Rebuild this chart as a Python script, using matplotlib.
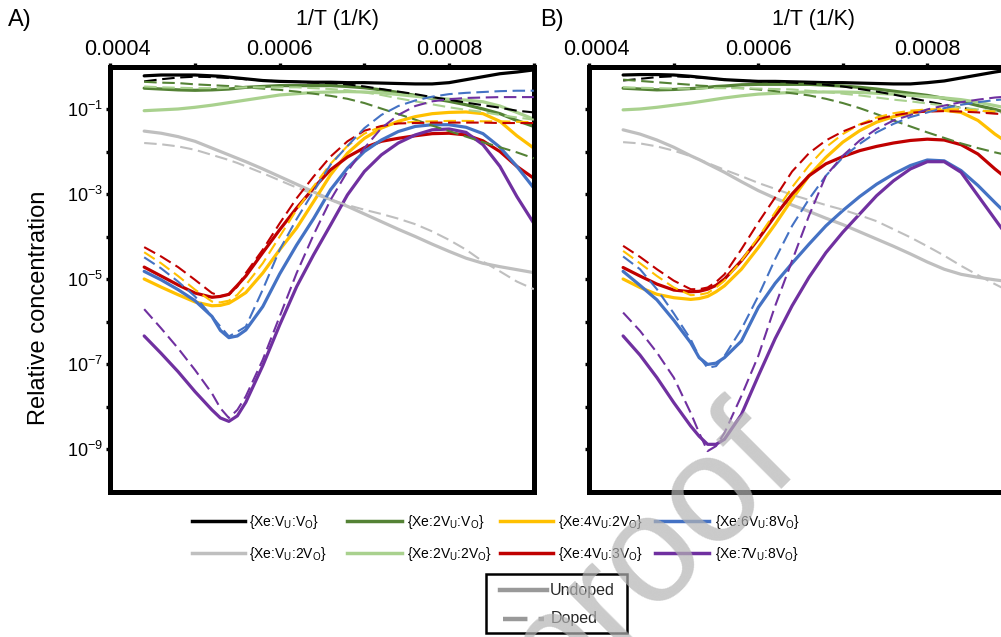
import matplotlib
matplotlib.use('Agg')
import matplotlib.pyplot as plt
from matplotlib.lines import Line2D
from matplotlib.patches import Rectangle
from matplotlib.ticker import FixedLocator, FixedFormatter, NullFormatter
from matplotlib.transforms import ScaledTranslation
import numpy as np

plt.rcParams['font.family'] = ['Liberation Sans', 'DejaVu Sans']
plt.rcParams['mathtext.fontset'] = 'custom'
plt.rcParams['mathtext.rm'] = 'Liberation Sans'
plt.rcParams['mathtext.it'] = 'Liberation Sans:italic'
plt.rcParams['mathtext.bf'] = 'Liberation Sans:bold'

# ── data: 1/T grid and log10(relative concentration) ──
inv_T = [0.00044, 0.00046, 0.00048, 0.00050, 0.00052, 0.00053, 0.00054, 0.00055, 0.00056,
         0.00058, 0.00060, 0.00062, 0.00064, 0.00066, 0.00068, 0.00070, 0.00072, 0.00074,
         0.00076, 0.00078, 0.00080, 0.00082, 0.00084, 0.00086, 0.00088, 0.00090]

# panel A   (_u = undoped, _d = doped)
A_VuVo_u = [-0.22, -0.20, -0.20, -0.20, -0.22, -0.23, -0.25, -0.27, -0.29, -0.33, -0.35, -0.36, -0.37, -0.37, -0.38, -0.38, -0.39, -0.40, -0.41, -0.41, -0.38, -0.31, -0.24, -0.17, -0.13, -0.08]
A_VuVo_d = [-0.35, -0.30, -0.26, -0.24, -0.25, -0.26, -0.27, -0.28, -0.30, -0.33, -0.35, -0.36, -0.38, -0.39, -0.42, -0.47, -0.53, -0.59, -0.65, -0.72, -0.78, -0.85, -0.91, -0.97, -1.04, -1.08]
A_Vu2Vo_u = [-1.52, -1.57, -1.65, -1.76, -1.92, -2.00, -2.08, -2.16, -2.24, -2.41, -2.59, -2.77, -2.95, -3.13, -3.29, -3.47, -3.65, -3.83, -4.00, -4.18, -4.35, -4.51, -4.63, -4.71, -4.78, -4.85]
A_Vu2Vo_d = [-1.80, -1.83, -1.88, -1.96, -2.08, -2.14, -2.20, -2.27, -2.35, -2.51, -2.68, -2.85, -3.00, -3.14, -3.26, -3.37, -3.47, -3.58, -3.71, -3.88, -4.08, -4.31, -4.59, -4.82, -5.06, -5.24]
A_2VuVo_u = [-0.51, -0.53, -0.55, -0.56, -0.55, -0.54, -0.53, -0.51, -0.49, -0.47, -0.45, -0.45, -0.45, -0.45, -0.47, -0.50, -0.55, -0.61, -0.68, -0.75, -0.82, -0.90, -1.00, -1.11, -1.27, -1.41]
A_2VuVo_d = [-0.36, -0.38, -0.39, -0.42, -0.44, -0.45, -0.46, -0.47, -0.49, -0.52, -0.55, -0.59, -0.64, -0.69, -0.76, -0.86, -0.99, -1.12, -1.25, -1.39, -1.52, -1.65, -1.78, -1.90, -2.02, -2.16]
A_2Vu2Vo_u = [-1.04, -1.02, -1.00, -0.96, -0.91, -0.88, -0.85, -0.82, -0.79, -0.73, -0.67, -0.64, -0.61, -0.60, -0.59, -0.60, -0.62, -0.66, -0.70, -0.74, -0.77, -0.79, -0.83, -0.93, -1.08, -1.24]
A_2Vu2Vo_d = [-0.47, -0.49, -0.50, -0.51, -0.51, -0.51, -0.50, -0.50, -0.49, -0.49, -0.49, -0.49, -0.51, -0.53, -0.56, -0.61, -0.67, -0.75, -0.82, -0.89, -0.96, -1.02, -1.07, -1.14, -1.20, -1.25]
A_4Vu2Vo_u = [-5.00, -5.19, -5.37, -5.54, -5.63, -5.62, -5.57, -5.45, -5.32, -4.86, -4.31, -3.80, -3.18, -2.55, -2.04, -1.69, -1.45, -1.29, -1.18, -1.11, -1.08, -1.07, -1.11, -1.29, -1.63, -1.92]
A_4Vu2Vo_d = [-4.37, -4.63, -4.93, -5.25, -5.53, -5.55, -5.51, -5.37, -5.14, -4.63, -4.00, -3.37, -2.82, -2.29, -1.87, -1.58, -1.41, -1.33, -1.30, -1.29, -1.28, -1.28, -1.29, -1.29, -1.30, -1.31]
A_4Vu3Vo_u = [-4.72, -4.93, -5.14, -5.33, -5.43, -5.41, -5.36, -5.15, -4.93, -4.38, -3.84, -3.33, -2.86, -2.43, -2.13, -1.91, -1.76, -1.69, -1.63, -1.58, -1.57, -1.61, -1.75, -2.00, -2.35, -2.63]
A_4Vu3Vo_d = [-4.25, -4.47, -4.72, -5.02, -5.33, -5.40, -5.37, -5.18, -4.86, -4.31, -3.69, -3.10, -2.59, -2.12, -1.76, -1.51, -1.40, -1.34, -1.33, -1.32, -1.32, -1.32, -1.32, -1.33, -1.33, -1.33]
A_6Vu8Vo_u = [-4.82, -5.02, -5.25, -5.51, -5.88, -6.21, -6.38, -6.34, -6.20, -5.65, -4.88, -4.20, -3.58, -2.90, -2.39, -2.00, -1.73, -1.53, -1.41, -1.37, -1.37, -1.43, -1.58, -1.90, -2.35, -2.86]
A_6Vu8Vo_d = [-4.49, -4.75, -5.06, -5.41, -5.88, -6.12, -6.35, -6.24, -6.12, -5.25, -4.31, -3.59, -2.94, -2.31, -1.87, -1.45, -1.14, -0.93, -0.80, -0.71, -0.65, -0.62, -0.60, -0.58, -0.57, -0.57]
A_7Vu8Vo_u = [-6.34, -6.75, -7.18, -7.65, -8.08, -8.27, -8.35, -8.22, -7.90, -7.04, -6.08, -5.18, -4.43, -3.73, -3.02, -2.47, -2.08, -1.80, -1.61, -1.49, -1.47, -1.55, -1.84, -2.35, -3.06, -3.69]
A_7Vu8Vo_d = [-5.71, -6.16, -6.63, -7.14, -7.69, -8.04, -8.27, -8.08, -7.76, -6.90, -5.88, -4.86, -3.96, -3.14, -2.47, -1.92, -1.45, -1.14, -0.93, -0.82, -0.77, -0.74, -0.73, -0.72, -0.72, -0.72]

# panel B
B_VuVo_u = [-0.20, -0.19, -0.19, -0.20, -0.23, -0.25, -0.27, -0.29, -0.31, -0.33, -0.35, -0.35, -0.36, -0.37, -0.38, -0.38, -0.39, -0.40, -0.41, -0.41, -0.38, -0.34, -0.27, -0.20, -0.13, -0.07]
B_VuVo_d = [-0.33, -0.29, -0.25, -0.23, -0.25, -0.26, -0.27, -0.29, -0.31, -0.33, -0.35, -0.36, -0.38, -0.40, -0.43, -0.47, -0.53, -0.59, -0.66, -0.74, -0.82, -0.90, -0.97, -1.03, -1.08, -1.12]
B_Vu2Vo_u = [-1.49, -1.59, -1.73, -1.90, -2.10, -2.19, -2.29, -2.39, -2.49, -2.71, -2.92, -3.10, -3.26, -3.41, -3.57, -3.72, -3.89, -4.06, -4.23, -4.41, -4.60, -4.77, -4.89, -4.96, -5.02, -5.07]
B_Vu2Vo_d = [-1.78, -1.81, -1.88, -1.98, -2.11, -2.19, -2.27, -2.35, -2.43, -2.58, -2.74, -2.88, -3.02, -3.14, -3.26, -3.37, -3.50, -3.64, -3.83, -4.02, -4.23, -4.45, -4.69, -4.91, -5.12, -5.32]
B_2VuVo_u = [-0.51, -0.53, -0.55, -0.54, -0.52, -0.51, -0.49, -0.47, -0.46, -0.43, -0.42, -0.42, -0.42, -0.42, -0.44, -0.46, -0.49, -0.53, -0.58, -0.63, -0.68, -0.75, -0.82, -0.92, -1.01, -1.12]
B_2VuVo_d = [-0.31, -0.34, -0.37, -0.40, -0.43, -0.45, -0.46, -0.48, -0.49, -0.51, -0.54, -0.58, -0.63, -0.68, -0.76, -0.86, -0.98, -1.12, -1.27, -1.41, -1.55, -1.68, -1.81, -1.92, -2.02, -2.11]
B_2Vu2Vo_u = [-1.02, -1.00, -0.96, -0.91, -0.86, -0.83, -0.80, -0.77, -0.74, -0.69, -0.65, -0.63, -0.61, -0.60, -0.60, -0.60, -0.61, -0.63, -0.65, -0.68, -0.71, -0.74, -0.78, -0.84, -0.92, -1.00]
B_2Vu2Vo_d = [-0.49, -0.50, -0.51, -0.52, -0.52, -0.52, -0.51, -0.51, -0.51, -0.51, -0.52, -0.53, -0.54, -0.57, -0.60, -0.64, -0.68, -0.73, -0.78, -0.82, -0.87, -0.92, -0.97, -1.01, -1.06, -1.11]
B_4Vu2Vo_u = [-5.00, -5.20, -5.36, -5.44, -5.48, -5.46, -5.41, -5.30, -5.16, -4.77, -4.26, -3.71, -3.12, -2.57, -2.14, -1.78, -1.51, -1.31, -1.18, -1.09, -1.04, -1.03, -1.08, -1.27, -1.59, -1.86]
B_4Vu2Vo_d = [-4.34, -4.63, -4.93, -5.20, -5.38, -5.37, -5.33, -5.20, -5.04, -4.57, -4.02, -3.43, -2.84, -2.33, -1.90, -1.59, -1.36, -1.20, -1.10, -1.04, -1.01, -1.00, -1.01, -1.04, -1.06, -1.08]
B_4Vu3Vo_u = [-4.73, -4.93, -5.12, -5.26, -5.30, -5.29, -5.24, -5.15, -5.00, -4.57, -4.06, -3.51, -3.00, -2.57, -2.29, -2.12, -1.98, -1.88, -1.80, -1.74, -1.71, -1.73, -1.84, -2.06, -2.41, -2.73]
B_4Vu3Vo_d = [-4.22, -4.48, -4.77, -5.04, -5.24, -5.24, -5.20, -5.07, -4.89, -4.30, -3.67, -3.08, -2.47, -2.04, -1.74, -1.53, -1.37, -1.25, -1.15, -1.09, -1.06, -1.05, -1.06, -1.08, -1.11, -1.13]
B_6Vu8Vo_u = [-4.82, -5.15, -5.49, -5.97, -6.50, -6.85, -7.01, -6.98, -6.85, -6.46, -5.67, -5.10, -4.63, -4.18, -3.75, -3.39, -3.06, -2.77, -2.53, -2.33, -2.20, -2.22, -2.45, -2.80, -3.20, -3.59]
B_6Vu8Vo_d = [-4.47, -4.77, -5.24, -5.81, -6.42, -6.83, -7.09, -7.05, -6.81, -6.18, -5.40, -4.53, -3.75, -3.12, -2.57, -2.14, -1.82, -1.55, -1.35, -1.19, -1.08, -0.98, -0.90, -0.84, -0.79, -0.76]
B_7Vu8Vo_u = [-6.34, -6.79, -7.32, -7.91, -8.46, -8.70, -8.89, -8.89, -8.77, -8.19, -7.28, -6.40, -5.63, -4.96, -4.38, -3.90, -3.47, -3.04, -2.69, -2.41, -2.24, -2.24, -2.49, -3.04, -3.59, -4.14]
B_7Vu8Vo_d = [-5.79, -6.22, -6.73, -7.32, -8.15, -8.62, -9.05, -8.93, -8.62, -7.75, -6.81, -5.63, -4.57, -3.51, -2.57, -2.10, -1.74, -1.47, -1.27, -1.14, -1.01, -0.92, -0.84, -0.78, -0.73, -0.70]

# species (legend order: column by column) and colours
species = [('', ''), ('', '2'), ('2', ''), ('2', '2'), ('4', '2'), ('4', '3'), ('6', '8'), ('7', '8')]
colors = ['#000000', '#BFBFBF', '#548235', '#A9D18E', '#FFC000', '#C00000', '#4472C4', '#7030A0']

panel_A = [(A_VuVo_u, A_VuVo_d), (A_Vu2Vo_u, A_Vu2Vo_d), (A_2VuVo_u, A_2VuVo_d), (A_2Vu2Vo_u, A_2Vu2Vo_d),
           (A_4Vu2Vo_u, A_4Vu2Vo_d), (A_4Vu3Vo_u, A_4Vu3Vo_d), (A_6Vu8Vo_u, A_6Vu8Vo_d), (A_7Vu8Vo_u, A_7Vu8Vo_d)]
panel_B = [(B_VuVo_u, B_VuVo_d), (B_Vu2Vo_u, B_Vu2Vo_d), (B_2VuVo_u, B_2VuVo_d), (B_2Vu2Vo_u, B_2Vu2Vo_d),
           (B_4Vu2Vo_u, B_4Vu2Vo_d), (B_4Vu3Vo_u, B_4Vu3Vo_d), (B_6Vu8Vo_u, B_6Vu8Vo_d), (B_7Vu8Vo_u, B_7Vu8Vo_d)]

x_major = [0.0004, 0.0006, 0.0008]
x_minor = [0.0005, 0.0007, 0.0009]
y_major = [1e-1, 1e-3, 1e-5, 1e-7, 1e-9]
y_minor = [1e-2, 1e-4, 1e-6, 1e-8]


def label_for(a, b):
    return '{Xe:' + a + 'V$_\\mathregular{U}$:' + b + 'V$_\\mathregular{O}$}'


W, H = 1001, 637
fig = plt.figure(figsize=(W / 100, H / 100), dpi=100)


def fx(px):
    return px / W


def fy(py):
    return 1 - py / H


def style_axes(ax, show_ylabels=True):
    ax.set_yscale('log')
    ax.set_xlim(0.0004, 0.0009)
    ax.set_ylim(1e-10, 1)
    ax.xaxis.tick_top()
    ax.xaxis.set_major_locator(FixedLocator(x_major))
    ax.xaxis.set_major_formatter(FixedFormatter(['0.0004', '0.0006', '0.0008']))
    ax.xaxis.set_minor_locator(FixedLocator(x_minor))
    ax.xaxis.set_minor_formatter(NullFormatter())
    ax.yaxis.set_major_locator(FixedLocator(y_major))
    ax.yaxis.set_minor_locator(FixedLocator(y_minor))
    ax.yaxis.set_minor_formatter(NullFormatter())
    if show_ylabels:
        ax.yaxis.set_major_formatter(FixedFormatter(['$10^{-1}$', '$10^{-3}$', '$10^{-5}$',
                                                     '$10^{-7}$', '$10^{-9}$']))
    else:
        ax.yaxis.set_major_formatter(NullFormatter())
    ax.tick_params(axis='both', which='both', direction='out', length=3, width=2.4, color='black')
    ax.tick_params(axis='x', which='major', labelsize=15.5, pad=2)
    ax.tick_params(axis='y', which='major', labelsize=13, pad=2)
    for sp in ax.spines.values():
        sp.set_linewidth(3.6)
        sp.set_color('black')
    # the first top label sits a little right of its edge tick in the original
    first = ax.xaxis.get_major_ticks(len(x_major))[0].label2
    first.set_transform(first.get_transform() + ScaledTranslation(5 / 72, 0, fig.dpi_scale_trans))


def draw_panel(ax, series):
    for (und, dop), c in zip(series, colors):
        ax.plot(inv_T, 10 ** np.array(und), color=c, lw=2.3, solid_capstyle='round',
                solid_joinstyle='round', zorder=2)
    for (und, dop), c in zip(series, colors):
        ax.plot(inv_T, 10 ** np.array(dop), color=c, lw=1.5, ls=(0, (6, 2.7)), zorder=3)


# axes (panel B runs off the right edge, as in the reference)
axA = fig.add_axes([fx(110.3), fy(491.5), 423.5 / W, 425 / H])
axB = fig.add_axes([fx(589.3), fy(491.5), 422.5 / W, 425 / H])
style_axes(axA, True)
style_axes(axB, False)
draw_panel(axA, panel_A)
draw_panel(axB, panel_B)

fig.text(fx(8), fy(20), 'A)', fontsize=17, va='center', ha='left')
fig.text(fx(540), fy(20), 'B)', fontsize=17, va='center', ha='left')
fig.text(fx(338), fy(19), '1/T (1/K)', fontsize=15.5, va='center', ha='center')
fig.text(fx(814), fy(19), '1/T (1/K)', fontsize=15.5, va='center', ha='center')
fig.text(fx(39), fy(308), 'Relative concentration', fontsize=17, rotation=90,
         va='center', ha='center')

# ── species legend (2 rows x 4 columns) ─────────────────────────────────────
col_px = [(192, 245, 249), (347, 402, 407), (500, 553, 558), (655, 709, 715)]
row_py = [521, 553]
for i, ((a, b), c) in enumerate(zip(species, colors)):
    x0, x1, xt = col_px[i // 2]
    y = row_py[i % 2]
    fig.add_artist(Line2D([fx(x0), fx(x1)], [fy(y), fy(y)], transform=fig.transFigure,
                          color=c, lw=2.5))
    fig.text(fx(xt), fy(y + 1), label_for(a, b), fontsize=10, va='center', ha='left')

# ── undoped / doped key ─────────────────────────────────────────────────────
fig.add_artist(Rectangle((fx(486), fy(633)), (627 - 486) / W, (633 - 574) / H,
                         transform=fig.transFigure, fill=False, edgecolor='black', lw=1.8))
fig.add_artist(Line2D([fx(500), fx(547)], [fy(590), fy(590)], transform=fig.transFigure,
                      color='#999999', lw=3.2))
fig.add_artist(Line2D([fx(503), fx(544)], [fy(619), fy(619)], transform=fig.transFigure,
                      color='#999999', lw=3.2, ls=(0, (5.5, 2.5))))
fig.text(fx(550), fy(590), 'Undoped', fontsize=11.5, va='center', ha='left', color='#262626')
fig.text(fx(551), fy(619), 'Doped', fontsize=11.5, va='center', ha='left', color='#262626')

# ── watermark ───────────────────────────────────────────────────────────────
fig.text(fx(802), fy(468), 'Journal Pre-proof', fontsize=110, rotation=45,
         rotation_mode='anchor', ha='right', va='baseline', color='#b4b4b4', alpha=0.7,
         zorder=10)

fig.savefig('out.png', dpi=100, facecolor='white')
